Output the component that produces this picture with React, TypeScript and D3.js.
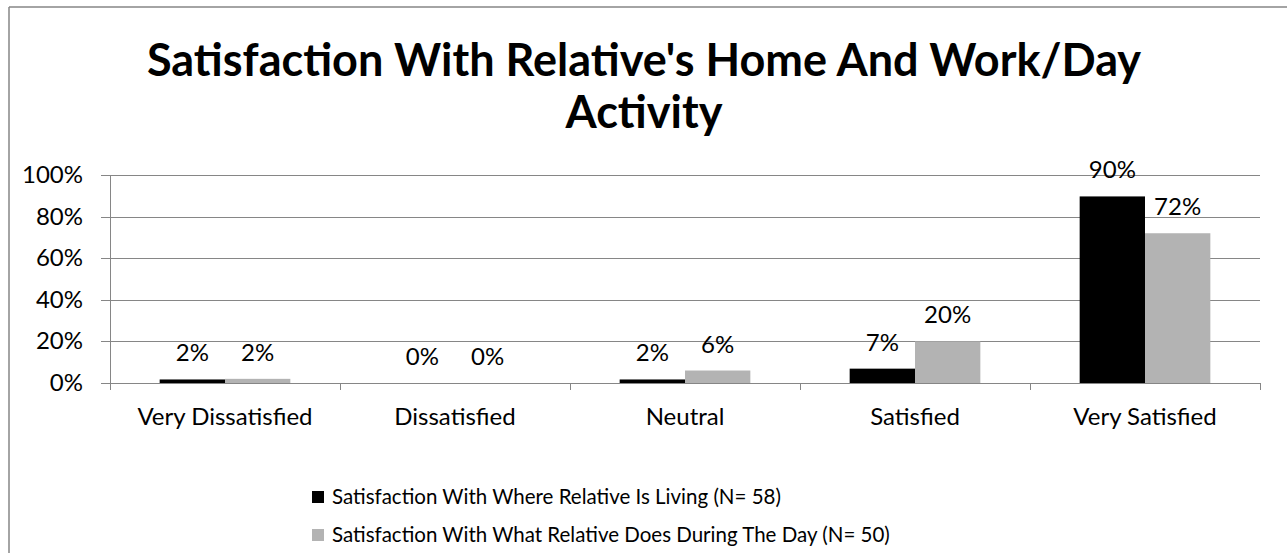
import React from "react";
import * as d3 from "d3";

const categories = ["Very Dissatisfied", "Dissatisfied", "Neutral", "Satisfied", "Very Satisfied"];
const seriesNames = [
  "Satisfaction With Where Relative Is Living (N= 58)",
  "Satisfaction With What Relative Does During The Day (N= 50)",
];
const livingValues = [1.7, 0, 1.7, 6.9, 89.7];
const dayValues = [2, 0, 6, 20, 72];
const yTicks = [0, 20, 40, 60, 80, 100];
const titleLines = ["Satisfaction With Relative's Home And Work/Day", "Activity"];

const colors = ["#000000", "#b3b3b3"];
const FONT = "Lato, 'Open Sans', sans-serif";

export default function App() {
  const W = 1287;
  const H = 553;
  const left = 110;
  const right = 1260;
  const top = 175;
  const bottom = 383;

  const x = d3.scaleBand<string>().domain(categories).range([left, right]).paddingInner(0).paddingOuter(0);
  const xs = d3.scaleBand<number>().domain([0, 1]).range([0, x.bandwidth()]).paddingInner(0).paddingOuter(0.76);
  const y = d3.scaleLinear().domain([0, 100]).range([bottom, top]);
  const series = [livingValues, dayValues];
  const gridColor = "#868686";

  return (
    <svg width={W} height={H} style={{ position: "absolute", left: 0, top: 0, background: "#fff" }}>
      <rect x={0} y={0} width={W} height={H} fill="#fff" />
      <line x1={9} y1={7} x2={W} y2={7} stroke={gridColor} strokeWidth={1.5} />
      <line x1={9} y1={7} x2={9} y2={H} stroke={gridColor} strokeWidth={1.5} />

      {titleLines.map((t, i) => (
        <text key={i} x={644} y={76 + i * 52} textAnchor="middle" fontFamily={FONT} fontWeight="bold" fontSize={45} fill="#000">
          {t}
        </text>
      ))}

      {yTicks.map((t) => (
        <g key={t}>
          <line x1={left - 9} x2={right} y1={Math.round(y(t)) + 0.5} y2={Math.round(y(t)) + 0.5} stroke={gridColor} strokeWidth={1} />
          <text x={83} y={y(t) + 8} textAnchor="end" fontFamily={FONT} fontSize={24} fill="#000">
            {t}%
          </text>
        </g>
      ))}

      <line x1={left + 0.5} x2={left + 0.5} y1={top} y2={bottom + 7} stroke={gridColor} strokeWidth={1} />
      {categories.map((c) => (
        <line key={c} x1={x(c)! + x.bandwidth() + 0.5} x2={x(c)! + x.bandwidth() + 0.5} y1={bottom} y2={bottom + 7} stroke={gridColor} strokeWidth={1} />
      ))}

      {series.map((vals, si) =>
        categories.map((c, ci) => {
          const v = vals[ci];
          const bx = x(c)! + xs(si)!;
          return (
            <g key={`${si}-${c}`}>
              {v > 0 && (
                <rect x={bx} y={y(v)} width={xs.bandwidth()} height={bottom - y(v)} fill={colors[si]} />
              )}
              <text x={bx + xs.bandwidth() / 2} y={y(v) - 18} textAnchor="middle" fontFamily={FONT} fontSize={24} fill="#000">
                {Math.round(v)}%
              </text>
            </g>
          );
        })
      )}

      {categories.map((c) => (
        <text key={c} x={x(c)! + x.bandwidth() / 2} y={425} textAnchor="middle" fontFamily={FONT} fontSize={24} fill="#000">
          {c}
        </text>
      ))}

      {seriesNames.map((n, i) => (
        <g key={n}>
          <rect x={312} y={491 + i * 38} width={12} height={12} fill={colors[i]} />
          <text x={332} y={504 + i * 38} fontFamily={FONT} fontSize={20.5} fill="#000">
            {n}
          </text>
        </g>
      ))}
    </svg>
  );
}
